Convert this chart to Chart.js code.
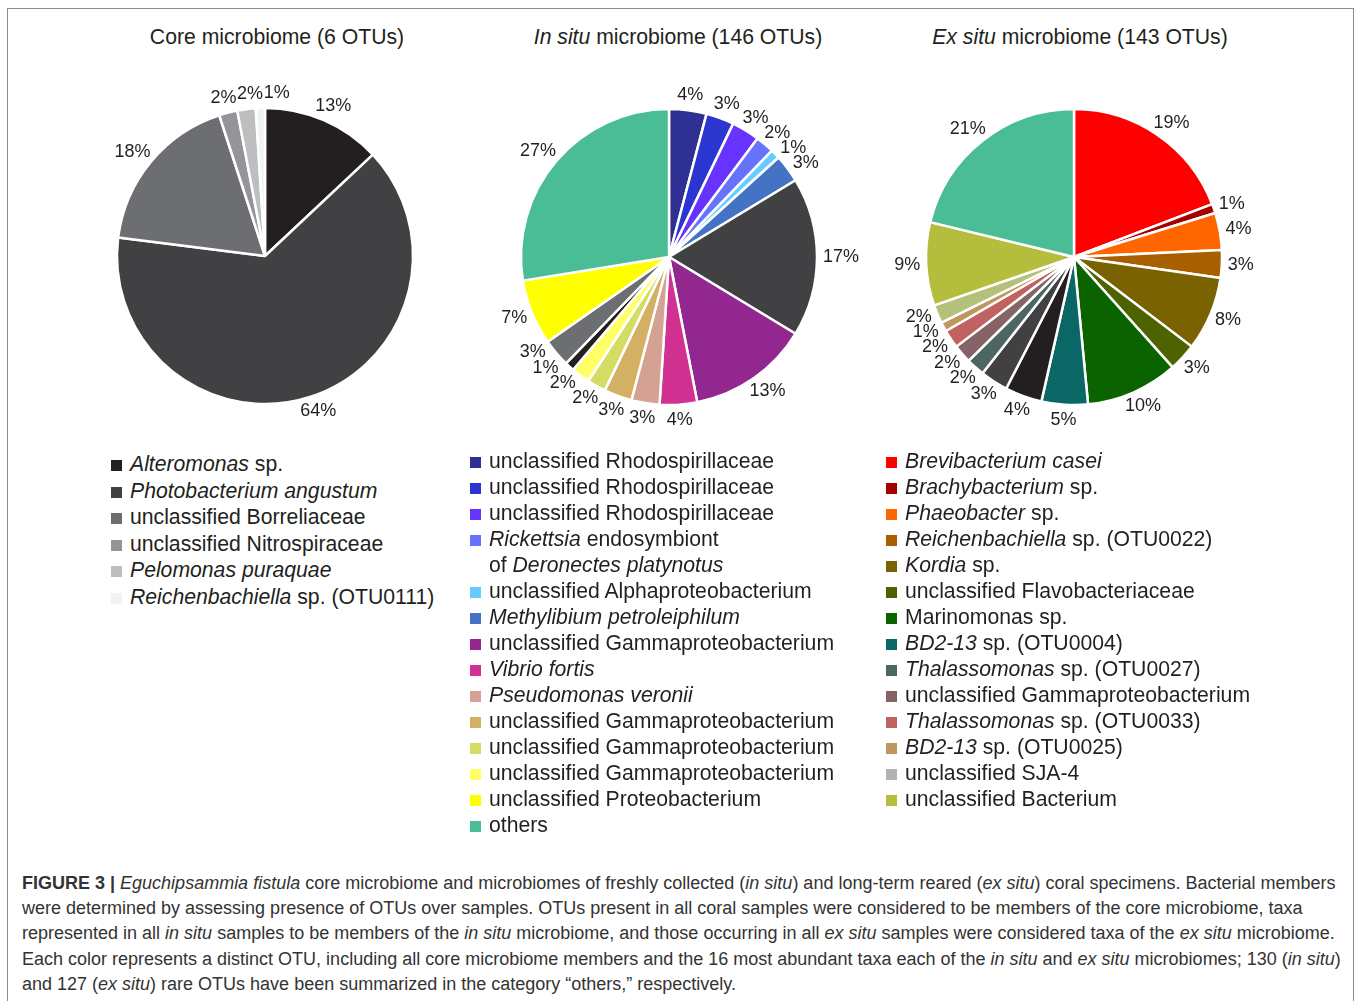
<!DOCTYPE html>
<html>
<head>
<meta charset="utf-8">
<script src="https://cdn.jsdelivr.net/npm/chart.js@4.4.1/dist/chart.umd.min.js"></script>
<style>
  body { margin: 0; background: #fff; font-family: "Liberation Sans", Arial, sans-serif; color: #231f20; }
  #frame { position: absolute; left: 7px; top: 8px; width: 1347px; height: 1000px; border: 1px solid #8c8c8c; box-sizing: border-box; }
  .title { position: absolute; width: 440px; text-align: center; font-size: 21.2px; line-height: 24px; top: 25px; }
  .pie { position: absolute; }
  .legend { position: absolute; list-style: none; margin: 0; padding: 0; font-size: 21.2px; }
  .legend li { display: flex; align-items: flex-start; line-height: 26px; }
  .legend .sw { width: 11px; height: 11px; flex: none; margin-top: 9px; margin-right: 8px; }
  #caption { position: absolute; left: 22px; top: 871px; font-size: 18px; line-height: 25.2px; color: #333; white-space: nowrap; }
</style>
</head>
<body>
<div id="frame"></div>

<div class="title" style="left:57px">Core microbiome (6 OTUs)</div>
<div class="title" style="left:458px"><i>In situ</i> microbiome (146 OTUs)</div>
<div class="title" style="left:860px"><i>Ex situ</i> microbiome (143 OTUs)</div>

<canvas id="corePie" class="pie" width="400" height="390" style="left:65px;top:61px"></canvas>
<canvas id="inSituPie" class="pie" width="400" height="390" style="left:469px;top:62px"></canvas>
<canvas id="exSituPie" class="pie" width="400" height="390" style="left:874px;top:62px"></canvas>

<ul id="coreLegend" class="legend" style="left:111px;top:451px"></ul>
<ul id="inSituLegend" class="legend" style="left:470px;top:448px"></ul>
<ul id="exSituLegend" class="legend" style="left:886px;top:448px"></ul>

<div id="caption">
<b>FIGURE 3 |</b> <i>Eguchipsammia fistula</i> core microbiome and microbiomes of freshly collected (<i>in situ</i>) and long-term reared (<i>ex situ</i>) coral specimens. Bacterial members<br>
were determined by assessing presence of OTUs over samples. OTUs present in all coral samples were considered to be members of the core microbiome, taxa<br>
represented in all <i>in situ</i> samples to be members of the <i>in situ</i> microbiome, and those occurring in all <i>ex situ</i> samples were considered taxa of the <i>ex situ</i> microbiome.<br>
Each color represents a distinct OTU, including all core microbiome members and the 16 most abundant taxa each of the <i>in situ</i> and <i>ex situ</i> microbiomes; 130 (<i>in situ</i>)<br>
and 127 (<i>ex situ</i>) rare OTUs have been summarized in the category “others,” respectively.
</div>

<script>
// core microbiome (percent of reads)
const coreLabels = ['Alteromonas sp.', 'Photobacterium angustum', 'unclassified Borreliaceae',
  'unclassified Nitrospiraceae', 'Pelomonas puraquae', 'Reichenbachiella sp. (OTU0111)'];
const coreValues = [13, 64, 18, 2, 2, 1];
const coreColors = ['#231f20', '#414042', '#6d6e71', '#939598', '#bcbec0', '#f1f2f2'];
const coreLegend = ['<i>Alteromonas</i> sp.', '<i>Photobacterium angustum</i>', 'unclassified Borreliaceae',
  'unclassified Nitrospiraceae', '<i>Pelomonas puraquae</i>', '<i>Reichenbachiella</i> sp. (OTU0111)'];

// in situ microbiome, clockwise from 12 o'clock
const inSituLabels = ['unclassified Rhodospirillaceae', 'unclassified Rhodospirillaceae', 'unclassified Rhodospirillaceae',
  'Rickettsia endosymbiont of Deronectes platynotus', 'unclassified Alphaproteobacterium', 'Methylibium petroleiphilum',
  'Photobacterium angustum', 'unclassified Gammaproteobacterium', 'Vibrio fortis', 'Pseudomonas veronii',
  'unclassified Gammaproteobacterium', 'unclassified Gammaproteobacterium', 'unclassified Gammaproteobacterium',
  'Alteromonas sp.', 'unclassified Borreliaceae', 'unclassified Proteobacterium', 'others'];
const inSituValues = [4, 3, 3, 2, 1, 3, 17, 13, 4, 3, 3, 2, 2, 1, 3, 7, 27];
const inSituColors = ['#2e3192', '#2b35d0', '#6633ff', '#6673ff', '#66ccff', '#4472c4', '#414042', '#92278f',
  '#d13292', '#d4a192', '#d4b064', '#d4dc64', '#ffff66', '#231f20', '#6d6e71', '#ffff00', '#4bbd96'];
const inSituLegend = ['unclassified Rhodospirillaceae', 'unclassified Rhodospirillaceae', 'unclassified Rhodospirillaceae',
  '<i>Rickettsia</i> endosymbiont<br>of <i>Deronectes platynotus</i>', 'unclassified Alphaproteobacterium',
  '<i>Methylibium petroleiphilum</i>', 'unclassified Gammaproteobacterium', '<i>Vibrio fortis</i>',
  '<i>Pseudomonas veronii</i>', 'unclassified Gammaproteobacterium', 'unclassified Gammaproteobacterium',
  'unclassified Gammaproteobacterium', 'unclassified Proteobacterium', 'others'];
const inSituLegendColors = ['#2e3192', '#2b35d0', '#6633ff', '#6673ff', '#66ccff', '#4472c4', '#92278f',
  '#d13292', '#d4a192', '#d4b064', '#d4dc64', '#ffff66', '#ffff00', '#4bbd96'];

// ex situ microbiome, clockwise from 12 o'clock
const exSituLabels = ['Brevibacterium casei', 'Brachybacterium sp.', 'Phaeobacter sp.', 'Reichenbachiella sp. (OTU0022)',
  'Kordia sp.', 'unclassified Flavobacteriaceae', 'Marinomonas sp.', 'BD2-13 sp. (OTU0004)', 'Alteromonas sp.',
  'Photobacterium angustum', 'Thalassomonas sp. (OTU0027)', 'unclassified Gammaproteobacterium',
  'Thalassomonas sp. (OTU0033)', 'BD2-13 sp. (OTU0025)', 'unclassified SJA-4', 'unclassified Bacterium', 'others'];
const exSituValues = [19, 1, 4, 3, 8, 3, 10, 5, 4, 3, 2, 2, 2, 1, 2, 9, 21];
const exSituColors = ['#ff0000', '#a50000', '#ff6600', '#a85f00', '#7a6200', '#4f6200', '#0b6300', '#0b6666',
  '#231f20', '#414042', '#4d6661', '#866366', '#c0625f', '#c0965f', '#b3c27a', '#b5bd3c', '#4bbd96'];
const exSituLegend = ['<i>Brevibacterium casei</i>', '<i>Brachybacterium</i> sp.', '<i>Phaeobacter</i> sp.',
  '<i>Reichenbachiella</i> sp. (OTU0022)', '<i>Kordia</i> sp.', 'unclassified Flavobacteriaceae', 'Marinomonas sp.',
  '<i>BD2-13</i> sp. (OTU0004)', '<i>Thalassomonas</i> sp. (OTU0027)', 'unclassified Gammaproteobacterium',
  '<i>Thalassomonas</i> sp. (OTU0033)', '<i>BD2-13</i> sp. (OTU0025)', 'unclassified SJA-4', 'unclassified Bacterium'];
const exSituLegendColors = ['#ff0000', '#a50000', '#ff6600', '#a85f00', '#7a6200', '#4f6200', '#0b6300', '#0b6666',
  '#4d6661', '#866366', '#c0625f', '#c0965f', '#b3b3b3', '#b5bd3c'];

// percent labels just outside each slice; crowded ones get nudged clockwise
const outsideLabels = {
  id: 'outsideLabels',
  afterDatasetsDraw(chart) {
    const ctx = chart.ctx;
    const data = chart.data.datasets[0].data;
    ctx.save();
    ctx.font = '18px "Liberation Sans", Arial, sans-serif';
    ctx.fillStyle = '#231f20';
    ctx.textAlign = 'center';
    ctx.textBaseline = 'middle';
    let prev = null;
    chart.getDatasetMeta(0).data.forEach((arc, i) => {
      const p = arc.getProps(['x', 'y', 'startAngle', 'endAngle', 'outerRadius'], true);
      const mid = (p.startAngle + p.endAngle) / 2;
      const r = p.outerRadius + 6;
      const txt = data[i] + '%';
      const w = ctx.measureText(txt).width;
      let x = p.x + Math.cos(mid) * r + Math.cos(mid) * w / 2;
      let y = p.y + Math.sin(mid) * r + Math.sin(mid) * 9;
      if (prev) {
        let n = 0;
        while (n < 30 && Math.abs(x - prev.x) < (w + prev.w) / 2 && Math.abs(y - prev.y) < 15) {
          x += -Math.sin(mid);
          y += Math.cos(mid);
          n++;
        }
      }
      ctx.fillText(txt, x, y);
      prev = { x: x, y: y, w: w };
    });
    ctx.restore();
  }
};

function makePie(id, labels, values, colors) {
  return new Chart(document.getElementById(id).getContext('2d'), {
    type: 'pie',
    data: {
      labels: labels,
      datasets: [{
        data: values,
        backgroundColor: colors,
        borderColor: '#ffffff',
        borderWidth: 2.5
      }]
    },
    options: {
      responsive: false,
      animation: false,
      radius: 148,
      plugins: {
        legend: { display: false },
        tooltip: { enabled: false }
      }
    },
    plugins: [outsideLabels]
  });
}

function makeLegend(id, names, colors) {
  const ul = document.getElementById(id);
  names.forEach((n, i) => {
    const li = document.createElement('li');
    li.innerHTML = '<span class="sw" style="background:' + colors[i] + '"></span><span>' + n + '</span>';
    ul.appendChild(li);
  });
}

makePie('corePie', coreLabels, coreValues, coreColors);
makePie('inSituPie', inSituLabels, inSituValues, inSituColors);
makePie('exSituPie', exSituLabels, exSituValues, exSituColors);

makeLegend('coreLegend', coreLegend, coreColors);
makeLegend('inSituLegend', inSituLegend, inSituLegendColors);
makeLegend('exSituLegend', exSituLegend, exSituLegendColors);
document.querySelectorAll('#coreLegend li').forEach(li => li.style.lineHeight = '26.6px');
</script>
</body>
</html>
